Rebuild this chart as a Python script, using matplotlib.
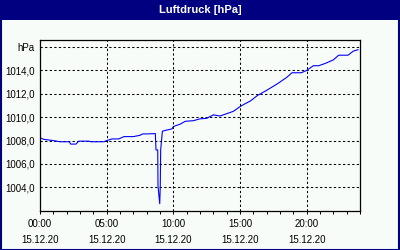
import matplotlib
matplotlib.use("Agg")
import matplotlib.pyplot as plt
from matplotlib.patches import Rectangle
from matplotlib.ticker import FixedLocator, FuncFormatter

plt.rcParams["font.family"] = ["Liberation Sans", "DejaVu Sans"]

# hours since 15.12.20 00:00 and air pressure in hPa
hours = [0.0, 0.3, 0.6, 1.0, 1.5, 2.2, 2.3, 2.7, 2.9, 3.7, 3.8, 4.8, 5.0, 5.4,
         5.9, 6.3, 7.0, 7.5, 7.7, 8.1, 8.65, 8.7, 8.83, 8.85, 8.98, 9.02, 9.05,
         9.18, 9.5, 9.9, 10.0, 10.5, 10.9, 11.5, 12.0, 12.5, 13.0, 13.5, 14.0,
         14.5, 15.0, 15.3, 15.8, 16.3, 17.0, 17.8, 18.5, 18.9, 19.6, 20.0, 20.5,
         20.9, 21.4, 22.0, 22.4, 23.1, 23.5, 23.85]
pressure = [1008.23, 1008.1, 1008.06, 1008.0, 1007.9, 1007.9, 1007.7, 1007.7,
            1007.95, 1007.95, 1007.9, 1007.9, 1008.0, 1008.14, 1008.14, 1008.34,
            1008.34, 1008.45, 1008.57, 1008.57, 1008.6, 1007.2, 1007.2, 1004.1,
            1002.6, 1004.1, 1007.2, 1008.8, 1008.9, 1009.0, 1009.2, 1009.4,
            1009.65, 1009.7, 1009.86, 1009.9, 1010.2, 1010.1, 1010.3, 1010.5,
            1010.9, 1011.1, 1011.4, 1011.85, 1012.3, 1012.85, 1013.4, 1013.8,
            1013.8, 1014.0, 1014.4, 1014.4, 1014.6, 1014.9, 1015.3, 1015.3,
            1015.65, 1015.77]

x_major = [0, 5, 10, 15, 20]
x_labels = ["00:00\n15.12.20", "05:00\n15.12.20", "10:00\n15.12.20",
            "15:00\n15.12.20", "20:00\n15.12.20"]
y_ticks = [1004, 1006, 1008, 1010, 1012, 1014, 1016]

bg = "#f8fcf8"
navy = "#000080"

fig = plt.figure(figsize=(4, 2.5), dpi=100, facecolor=bg)
# title bar and frame
fig.patches.append(Rectangle((0, 0.92), 1, 0.08, transform=fig.transFigure,
                             facecolor=navy, edgecolor="none", zorder=0))
fig.patches.append(Rectangle((0.002, 0.002), 0.995, 0.995, transform=fig.transFigure,
                             facecolor="none", edgecolor=navy, lw=1.5, zorder=5))
fig.text(0.5, 0.96, "Luftdruck [hPa]", color="white", fontsize=8,
         fontweight="bold", ha="center", va="center")

ax = fig.add_axes([0.1, 0.157, 0.8, 0.683])
ax.set_facecolor(bg)
ax.plot(hours, pressure, color="#0000ff", lw=0.8)

ax.set_xlim(0, 24)
ax.set_ylim(1002.0, 1016.6)
ax.xaxis.set_major_locator(FixedLocator(x_major))
ax.set_xticklabels(x_labels)
ax.xaxis.set_minor_locator(FixedLocator(range(0, 25)))
ax.yaxis.set_major_locator(FixedLocator(y_ticks))
ax.yaxis.set_major_formatter(FuncFormatter(
    lambda v, p: "hPa" if v >= 1016 else f"{v:.1f}".replace(".", ",")))

ax.grid(True, color="black", linestyle=(0, (2.2, 2.2)), lw=0.75)
ax.tick_params(axis="x", which="both", length=2, width=0.75, direction="out",
               labelsize=7, pad=4)
ax.tick_params(axis="y", length=0, labelsize=7, pad=4)
for lbl in ax.get_xticklabels():
    lbl.set_linespacing(1.75)
for s in ax.spines.values():
    s.set_linewidth(0.9)
    s.set_color("black")

fig.savefig("out.png", dpi=100, facecolor=bg)
